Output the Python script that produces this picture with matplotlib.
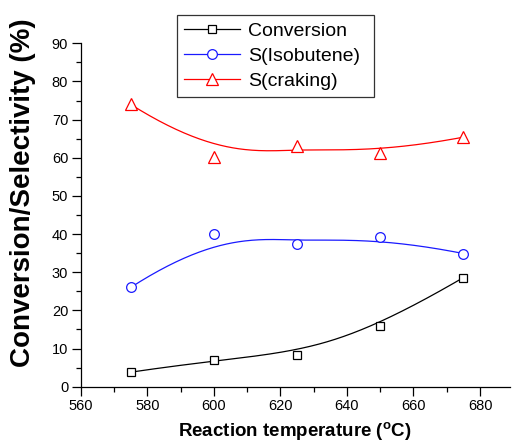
import numpy as np
import matplotlib
matplotlib.use('Agg')
import matplotlib.pyplot as plt
from matplotlib.ticker import MultipleLocator

plt.rcParams['font.family'] = ['Liberation Sans', 'DejaVu Sans']
plt.rcParams['mathtext.fontset'] = 'custom'
plt.rcParams['mathtext.rm'] = 'Liberation Sans'
plt.rcParams['mathtext.bf'] = 'Liberation Sans:bold'

temps = [575, 600, 625, 650, 675]
conversion = [3.8, 7.0, 8.2, 15.9, 28.6]
s_isobutene = [26.0, 40.0, 37.3, 39.2, 34.9]
s_craking = [74.0, 60.3, 63.2, 61.3, 65.4]
labels = ['Conversion', 'S(Isobutene)', 'S(craking)']


def basis(i, k, t, knots):
    # Cox-de Boor recursion
    if k == 0:
        res = ((knots[i] <= t) & (t < knots[i + 1])).astype(float)
        if knots[i + 1] == knots[-1]:
            res[t == knots[-1]] = 1.0 if knots[i] < knots[i + 1] else 0.0
        return res
    out = np.zeros_like(t)
    d1 = knots[i + k] - knots[i]
    d2 = knots[i + k + 1] - knots[i + 1]
    if d1 > 0:
        out += (t - knots[i]) / d1 * basis(i, k - 1, t, knots)
    if d2 > 0:
        out += (knots[i + k + 1] - t) / d2 * basis(i + 1, k - 1, t, knots)
    return out


def bspline(xs, ys, deg=3, n=200):
    xs = np.asarray(xs, float)
    ys = np.asarray(ys, float)
    m = len(xs)
    inner = np.linspace(0, 1, m - deg + 1)[1:-1]
    knots = np.concatenate([np.zeros(deg + 1), inner, np.ones(deg + 1)])
    t = np.linspace(0, 1, n)
    B = np.array([basis(i, deg, t, knots) for i in range(m)])
    return B.T @ xs, B.T @ ys


fig = plt.figure(figsize=(5.13, 4.44), dpi=100)
ax = fig.add_axes([80.7 / 513, 57.3 / 444, (510 - 80.7) / 513, (386.7 - 43.3) / 444])

series = [
    (conversion, 'black', 's', 6),
    (s_isobutene, '#1a1aff', 'o', 7),
    (s_craking, '#ff0000', '^', 8),
]
handles = []
for (vals, col, mk, ms), lab in zip(series, labels):
    bx, by = bspline(temps, vals)
    ax.plot(bx, by, color=col, lw=0.9)
    ax.plot(temps, vals, linestyle='none', marker=mk, ms=ms, mfc='white',
            mec=col, mew=0.9, color=col)
    h, = ax.plot([], [], color=col, lw=0.9, marker=mk, ms=ms, mfc='white',
                 mec=col, mew=0.9, label=lab)
    handles.append(h)

ax.set_xlim(560, 689)
ax.set_ylim(0, 90)
ax.xaxis.set_major_locator(MultipleLocator(20))
ax.xaxis.set_minor_locator(MultipleLocator(10))
ax.yaxis.set_major_locator(MultipleLocator(10))
ax.yaxis.set_minor_locator(MultipleLocator(5))
ax.spines['top'].set_visible(False)
ax.spines['right'].set_visible(False)
for sp in ('left', 'bottom'):
    ax.spines[sp].set_linewidth(0.9)
ax.tick_params(which='major', direction='out', length=6.5, width=0.9, labelsize=10.5, pad=2.5)
ax.tick_params(which='minor', direction='out', length=3.5, width=0.9)

ax.set_xlabel(r'Reaction temperature ($\mathbf{^{o}}$C)', fontsize=13.5,
              fontweight='bold', labelpad=5)
ax.set_ylabel('Conversion/Selectivity (%)', fontsize=20, fontweight='bold',
              va='center')
ax.yaxis.set_label_coords(23 / 513, 1 - 193 / 444, transform=fig.transFigure)

leg = fig.legend(handles=handles, loc='upper left',
                 bbox_to_anchor=(176.7 / 513, 1 - 15 / 444, 197 / 513, 0),
                 mode='expand', fontsize=14, frameon=True, fancybox=False,
                 numpoints=1, handlelength=2.9, handletextpad=0.4,
                 labelspacing=0.38, borderpad=0.36, borderaxespad=0)
leg.get_frame().set_edgecolor('black')
leg.get_frame().set_linewidth(0.9)

fig.savefig('out.png', dpi=100)
